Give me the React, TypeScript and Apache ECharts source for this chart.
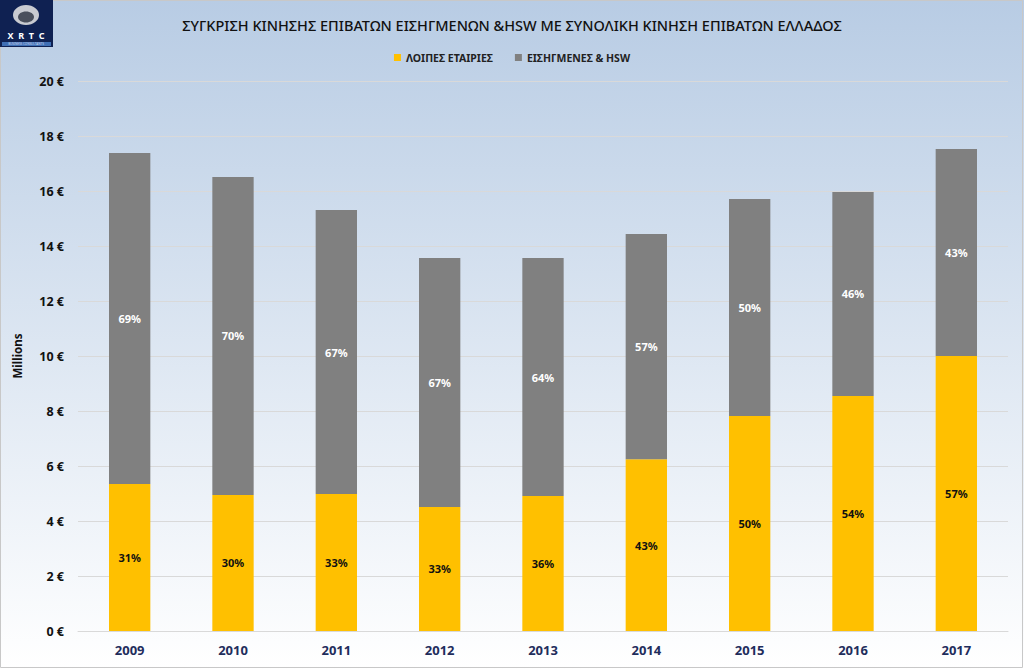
import React, { useEffect, useRef } from "react";
import * as echarts from "echarts";

const years = ["2009", "2010", "2011", "2012", "2013", "2014", "2015", "2016", "2017"];
const otherCompanies = [5.35, 4.95, 4.98, 4.51, 4.91, 6.25, 7.82, 8.55, 10.0];
const listedHsw = [12.03, 11.56, 10.33, 9.05, 8.65, 8.19, 7.89, 7.41, 7.53];
const otherPct = [31, 30, 33, 33, 36, 43, 50, 54, 57];
const listedPct = [69, 70, 67, 67, 64, 57, 50, 46, 43];
const yTicks = { min: 0, max: 20, interval: 2 };

const FONT = "'Noto Sans', 'Open Sans', sans-serif";

export default function App() {
  const ref = useRef<HTMLDivElement>(null);
  useEffect(() => {
    document.body.style.margin = "0";
    const chart = echarts.init(ref.current!, null, { renderer: "svg" });
    chart.setOption({
      animation: false,
      backgroundColor: new echarts.graphic.LinearGradient(0, 0, 0, 1, [
        { offset: 0, color: "#b8cce4" },
        { offset: 1, color: "#ffffff" },
      ]),
      textStyle: { fontFamily: FONT },
      title: {
        text: "ΣΥΓΚΡΙΣΗ ΚΙΝΗΣΗΣ ΕΠΙΒΑΤΩΝ ΕΙΣΗΓΜΕΝΩΝ &HSW ΜΕ ΣΥΝΟΛΙΚΗ ΚΙΝΗΣΗ ΕΠΙΒΑΤΩΝ ΕΛΛΑΔΟΣ",
        left: "center",
        top: 12,
        textStyle: { fontFamily: FONT, fontSize: 14.5, fontWeight: 500, color: "#111111" },
      },
      legend: {
        top: 47,
        left: "center",
        itemWidth: 7,
        itemHeight: 7,
        itemGap: 22,
        icon: "rect",
        textStyle: { fontFamily: FONT, fontSize: 10.5, fontWeight: "bold", color: "#222222" },
        data: ["ΛΟΙΠΕΣ ΕΤΑΙΡΙΕΣ", "ΕΙΣΗΓΜΕΝΕΣ & HSW"],
      },
      grid: { left: 78, right: 16, top: 81, bottom: 38 },
      xAxis: {
        type: "category",
        data: years,
        axisLine: { lineStyle: { color: "#d9d9d9" } },
        axisTick: { show: false },
        axisLabel: { color: "#1f2d5c", fontWeight: "bold", fontSize: 13, margin: 12, fontFamily: FONT },
      },
      yAxis: {
        type: "value",
        min: yTicks.min,
        max: yTicks.max,
        interval: yTicks.interval,
        name: "Millions",
        nameLocation: "middle",
        nameGap: 55,
        nameTextStyle: { fontWeight: "bold", fontSize: 11.5, color: "#111111", fontFamily: FONT },
        axisLabel: { formatter: "{value} €", fontWeight: "bold", fontSize: 12.5, color: "#111111", margin: 14, fontFamily: FONT },
        splitLine: { lineStyle: { color: "#d9d9d9" } },
        axisLine: { show: false },
        axisTick: { show: false },
      },
      series: [
        {
          name: "ΛΟΙΠΕΣ ΕΤΑΙΡΙΕΣ",
          type: "bar",
          stack: "total",
          barWidth: "40%",
          data: otherCompanies,
          itemStyle: { color: "#ffc000" },
          label: {
            show: true,
            position: "inside",
            formatter: (p: any) => otherPct[p.dataIndex] + "%",
            color: "#111111",
            fontWeight: "bold",
            fontSize: 11,
            fontFamily: FONT,
          },
        },
        {
          name: "ΕΙΣΗΓΜΕΝΕΣ & HSW",
          type: "bar",
          stack: "total",
          barWidth: "40%",
          data: listedHsw,
          itemStyle: { color: "#808080" },
          label: {
            show: true,
            position: "inside",
            formatter: (p: any) => listedPct[p.dataIndex] + "%",
            color: "#ffffff",
            fontWeight: "bold",
            fontSize: 11,
            fontFamily: FONT,
          },
        },
      ],
      graphic: [
        {
          type: "rect",
          shape: { x: 0.5, y: 0.5, width: 1022, height: 667 },
          style: { fill: "none", stroke: "#c8c8c8", lineWidth: 1 },
          silent: true,
        },
        {
          type: "group",
          left: 0,
          top: 0,
          children: [
            { type: "rect", shape: { x: 0, y: 0, width: 53, height: 47 }, style: { fill: "#0f2152" } },
            { type: "ellipse", shape: { cx: 26, cy: 15, rx: 13, ry: 10 }, style: { fill: "#c9cbd1" } },
            { type: "ellipse", shape: { cx: 26, cy: 17, rx: 8, ry: 5.5 }, style: { fill: "#4a4f5c" } },
            {
              type: "text",
              style: { text: "X  R  T  C", x: 26, y: 31, align: "center", fill: "#ffffff", font: "bold 9px " + FONT },
            },
            { type: "rect", shape: { x: 2, y: 42, width: 49, height: 4 }, style: { fill: "#3f6fb5" } },
            {
              type: "text",
              style: { text: "BUSINESS CONSULTANTS", x: 26, y: 42, align: "center", fill: "#cfd9ee", font: "3px " + FONT },
            },
          ],
        },
      ],
    });
    return () => chart.dispose();
  }, []);
  return <div ref={ref} style={{ position: "absolute", left: 0, top: 0, width: 1024, height: 669 }} />;
}
